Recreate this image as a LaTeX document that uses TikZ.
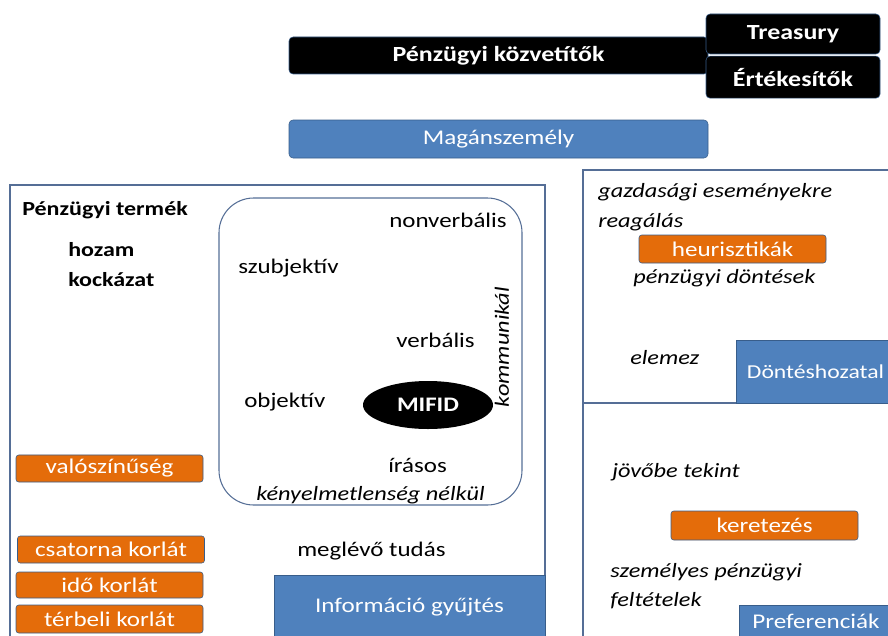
\documentclass[tikz,border=0pt]{standalone}
\usepackage{fontspec}
\setmainfont{Carlito}[FakeStretch=1.2]
\usepackage{tikz}
\usetikzlibrary{positioning,shapes.geometric}
\definecolor{boxblue}{RGB}{79,129,189}
\definecolor{boxorange}{RGB}{228,108,10}
\definecolor{boxedge}{RGB}{56,93,138}
\definecolor{frameline}{RGB}{85,110,150}

\begin{document}
\begin{tikzpicture}[x=0.75pt,y=-0.75pt]
\tikzstyle{txt}=[inner sep=0pt, anchor=west, font=\fontsize{15.6}{18}\selectfont]
\tikzstyle{itxt}=[txt, font=\fontsize{15.2}{18}\selectfont\itshape]
\tikzstyle{btxt}=[txt, font=\fontsize{15}{18}\selectfont\bfseries]
\tikzstyle{blackbox}=[rectangle, rounded corners=3pt, fill=black, draw=boxedge, text=white, font=\fontsize{16.2}{18}\selectfont\bfseries]
\tikzstyle{bluebox}=[rectangle, fill=boxblue, draw=boxedge, text=white, font=\fontsize{15.7}{18}\selectfont]
\tikzstyle{orangebox}=[rectangle, rounded corners=2pt, fill=boxorange, draw=boxedge, text=white, minimum width=140.25pt, font=\fontsize{15.7}{18}\selectfont]
\tikzstyle{frame}=[draw=frameline, thick]
  \path[use as bounding box, clip] (0,0) rectangle (888,635);

  % top row
  \node[blackbox, minimum width=314.25pt, minimum height=27.75pt] (kozvetitok) at (498.5,55.5) {Pénzügyi közvetítők};
  \node[blackbox, minimum width=130.5pt, minimum height=30pt] (treasury) at (793,34) {Treasury};
  \node[blackbox, minimum width=130.5pt, minimum height=31.5pt, below=1.2pt of treasury] (ertekesitok) {Értékesítők};
  \node[bluebox, rounded corners=3pt, minimum width=314.25pt, minimum height=28.5pt] (magan) at (498.5,139) {Magánszemély};

  % left panel
  \draw[frame] (10,645) -- (10,185) -- (545,185) -- (545,645);
  \draw[frame, rounded corners=26pt] (219,198) rectangle (522,505);
  \node[btxt] (termek) at (22,210) {Pénzügyi termék};
  \node[btxt] (hozam) at (68,250) {hozam};
  \node[btxt] (kockazat) at (68,280) {kockázat};
  \node[txt] (szubjektiv) at (238,268) {szubjektív};
  \node[txt] (nonverbalis) at (389,220) {nonverbális};
  \node[txt] (verbalis) at (396,340) {verbális};
  \node[txt] (objektiv) at (244,402) {objektív};
  \node[ellipse, fill=black, text=white, minimum width=97.5pt, minimum height=36pt, font=\fontsize{15.5}{18}\selectfont\bfseries] (mifid) at (428,405) {MIFID};
  \node[itxt, anchor=center, rotate=90] (kommunikal) at (502,347) {kommunikál};
  \node[txt] (irasos) at (388,465) {írásos};
  \node[itxt] (kenyelmetlen) at (256,495) {kényelmetlenség nélkül};
  \node[orangebox, minimum height=20.25pt] (valoszinuseg) at (109.5,468.5) {valószínűség};
  \node[orangebox, minimum height=20.25pt] (csatorna) at (111,549.5) {csatorna korlát};
  \node[orangebox, minimum height=19.5pt] (ido) at (109.5,585) {idő korlát};
  \node[orangebox, minimum height=21pt] (terbeli) at (109.5,619) {térbeli korlát};
  \node[txt] (tudas) at (297,551) {meglévő tudás};
  \node[bluebox, minimum width=203.25pt, minimum height=48.75pt] (informacio) at (409.5,607.5) {Információ gyűjtés};

  % right panels
  \draw[frame] (583,403) rectangle (895,170);
  \draw[frame] (583,645) -- (583,403) -- (895,403);
  \node[itxt] (gazdasagi) at (598,192) {gazdasági eseményekre};
  \node[itxt] (reagalas) at (598,222) {reagálás};
  \node[orangebox, minimum height=21pt] (heurisztikak) at (732.5,249) {heurisztikák};
  \node[itxt] (dontesek) at (633,278) {pénzügyi döntések};
  \node[itxt] (elemez) at (630,358) {elemez};
  \node[bluebox, minimum width=118.5pt, minimum height=47.25pt, font=\fontsize{14.8}{18}\selectfont] (donteshozatal) at (815.5,371.5) {Döntéshozatal};
  \node[itxt] (jovobe) at (612,472) {jövőbe tekint};
  \node[orangebox, minimum height=21.75pt] (keretezes) at (764.5,525.5) {keretezés};
  \node[itxt] (szemelyes) at (610,572) {személyes pénzügyi};
  \node[itxt] (feltetelek) at (610,601) {feltételek};
  \node[bluebox, minimum width=115.5pt, minimum height=24pt] (preferenciak) at (816,621) {Preferenciák};
\end{tikzpicture}
\end{document}
